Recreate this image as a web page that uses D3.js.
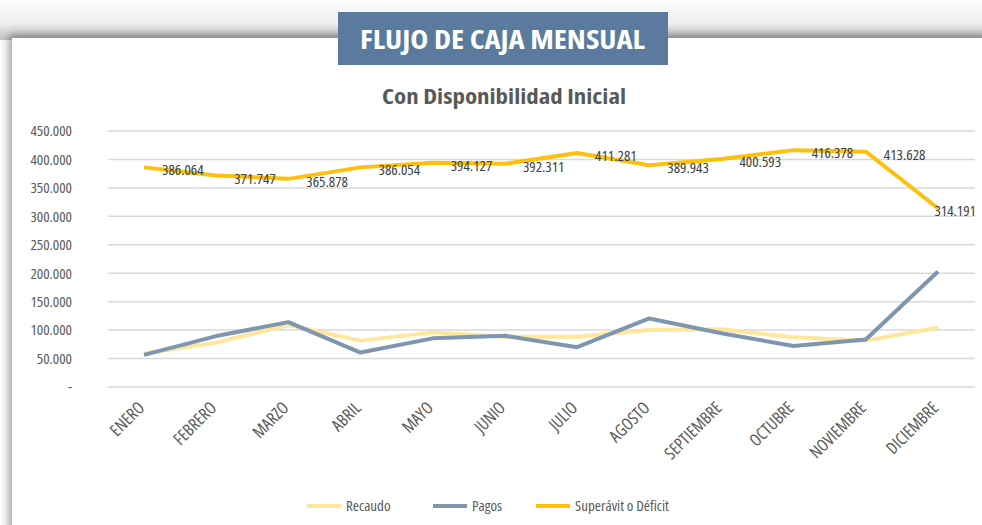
<!DOCTYPE html>
<html>
<head>
<meta charset="utf-8">
<script src="https://cdn.jsdelivr.net/npm/d3@7"></script>
<style>
  html, body { margin: 0; padding: 0; background: #fff; }
  svg { display: block; }
  text { font-family: "Open Sans", sans-serif; font-stretch: 75%; }
</style>
</head>
<body>
<div id="chart"></div>
<script>
// ─── data ────────────────────────────────────────────────────────────────
const months = ["ENERO", "FEBRERO", "MARZO", "ABRIL", "MAYO", "JUNIO", "JULIO",
  "AGOSTO", "SEPTIEMBRE", "OCTUBRE", "NOVIEMBRE", "DICIEMBRE"];
const recaudo = [59000, 78000, 109000, 81500, 96000, 88500, 88500, 100000, 101500, 87500, 81500, 104500];
const pagos = [56500, 89500, 114000, 60500, 85500, 90000, 70000, 120500, 94500, 72000, 83500, 203000];
const superavit = [386064, 371747, 365878, 386054, 394127, 392311, 411281, 389943, 400593, 416378, 413628, 314191];
const yTicks = [0, 50000, 100000, 150000, 200000, 250000, 300000, 350000, 400000, 450000];

const series = [
  { name: "Recaudo", values: recaudo, color: "#fee69b" },
  { name: "Pagos", values: pagos, color: "#7f97ae" },
  { name: "Superávit o Déficit", values: superavit, color: "#fdc00e" }
];

// ─── setup ───────────────────────────────────────────────────────────────
const W = 982, H = 525;
const svg = d3.select("#chart").append("svg").attr("width", W).attr("height", H);

const defs = svg.append("defs");
const bgGrad = defs.append("linearGradient").attr("id", "bg").attr("x1", 0).attr("y1", 0).attr("x2", 0).attr("y2", 1);
bgGrad.append("stop").attr("offset", "0%").attr("stop-color", "#fcfcfc");
bgGrad.append("stop").attr("offset", "55%").attr("stop-color", "#f1f1f1");
bgGrad.append("stop").attr("offset", "100%").attr("stop-color", "#c4c4c6");
const shadow = defs.append("filter").attr("id", "shadow").attr("x", "-5%").attr("y", "-10%").attr("width", "110%").attr("height", "120%");
shadow.append("feGaussianBlur").attr("in", "SourceAlpha").attr("stdDeviation", 5);
shadow.append("feOffset").attr("dx", -3).attr("dy", -3).attr("result", "b");
shadow.append("feComponentTransfer").append("feFuncA").attr("type", "linear").attr("slope", 0.4);
const m = shadow.append("feMerge");
m.append("feMergeNode");
m.append("feMergeNode").attr("in", "SourceGraphic");

// background + panel
svg.append("rect").attr("width", W).attr("height", 40).attr("fill", "url(#bg)");
svg.append("rect").attr("x", 12).attr("y", 38).attr("width", W).attr("height", H)
  .attr("fill", "#fff").attr("filter", "url(#shadow)");

// title box
svg.append("rect").attr("x", 338).attr("y", 12).attr("width", 330).attr("height", 53).attr("fill", "#5a7b9d");
svg.append("text").attr("x", 360).attr("y", 49)
  .attr("textLength", 285).attr("lengthAdjust", "spacingAndGlyphs")
  .attr("fill", "#fff").style("font-size", "27px").style("font-weight", "bold")
  .text("FLUJO DE CAJA MENSUAL");

svg.append("text").attr("x", 382).attr("y", 104)
  .attr("textLength", 244).attr("lengthAdjust", "spacingAndGlyphs")
  .attr("fill", "#595959").style("font-size", "21px").style("font-weight", "bold")
  .text("Con Disponibilidad Inicial");

// ─── scales ──────────────────────────────────────────────────────────────
const x = d3.scalePoint().domain(months).range([144, 938]);
const y = d3.scaleLinear().domain([0, 450000]).range([387, 131]);

const loc = d3.formatLocale({ decimal: ",", thousands: ".", grouping: [3], currency: ["", ""] });
const fmt = loc.format(",d");

// gridlines
const grid = svg.append("g");
grid.selectAll("line").data(yTicks).join("line")
  .attr("x1", 108).attr("x2", 975)
  .attr("y1", d => y(d)).attr("y2", d => y(d))
  .attr("stroke", "#d9d9d9").attr("stroke-width", 1.5);

// y axis
const yAxis = svg.append("g").attr("transform", "translate(72,0)")
  .call(d3.axisLeft(y).tickValues(yTicks).tickSize(0).tickPadding(0)
    .tickFormat(d => d === 0 ? "-" : fmt(d)));
yAxis.select(".domain").remove();
yAxis.selectAll("text").attr("fill", "#595959").style("font-size", "15px")
  .style("font-family", "'Open Sans', sans-serif");

// x axis labels
const xAxis = svg.append("g").attr("transform", "translate(0,392)")
  .call(d3.axisBottom(x).tickSize(0).tickPadding(0));
xAxis.select(".domain").remove();
xAxis.selectAll("text")
  .attr("text-anchor", "end")
  .attr("dy", null)
  .attr("y", 0)
  .attr("transform", "translate(1,17) rotate(-45)")
  .attr("fill", "#595959").style("font-size", "17px")
  .style("font-family", "'Open Sans', sans-serif");

// ─── lines ───────────────────────────────────────────────────────────────
const line = d3.line().x((d, i) => x(months[i])).y(d => y(d));
svg.append("g").selectAll("path").data(series).join("path")
  .attr("d", s => line(s.values))
  .attr("fill", "none").attr("stroke", s => s.color)
  .attr("stroke-width", 4).attr("stroke-linejoin", "round");

// data labels for Superávit (kept inside the plot at the right edge)
svg.append("g").selectAll("text").data(superavit).join("text")
  .attr("x", (d, i) => x(months[i]) + 18)
  .attr("y", d => y(d) + 8)
  .attr("fill", "#404040").style("font-size", "15px")
  .text(d => fmt(d))
  .each(function () {
    const t = d3.select(this);
    const w = this.getComputedTextLength();
    const x0 = +t.attr("x");
    if (x0 + w > 976) t.attr("x", 976 - w);
  });

// ─── legend ──────────────────────────────────────────────────────────────
const legendX = [307, 433, 536];
const lg = svg.append("g").selectAll("g").data(series).join("g")
  .attr("transform", (d, i) => `translate(${legendX[i]},506)`);
lg.append("line").attr("x1", 0).attr("x2", 34).attr("stroke", d => d.color).attr("stroke-width", 4);
lg.append("text").attr("x", 39).attr("dy", "0.35em").attr("fill", "#595959")
  .style("font-size", "15px").text(d => d.name);
</script>
</body>
</html>
